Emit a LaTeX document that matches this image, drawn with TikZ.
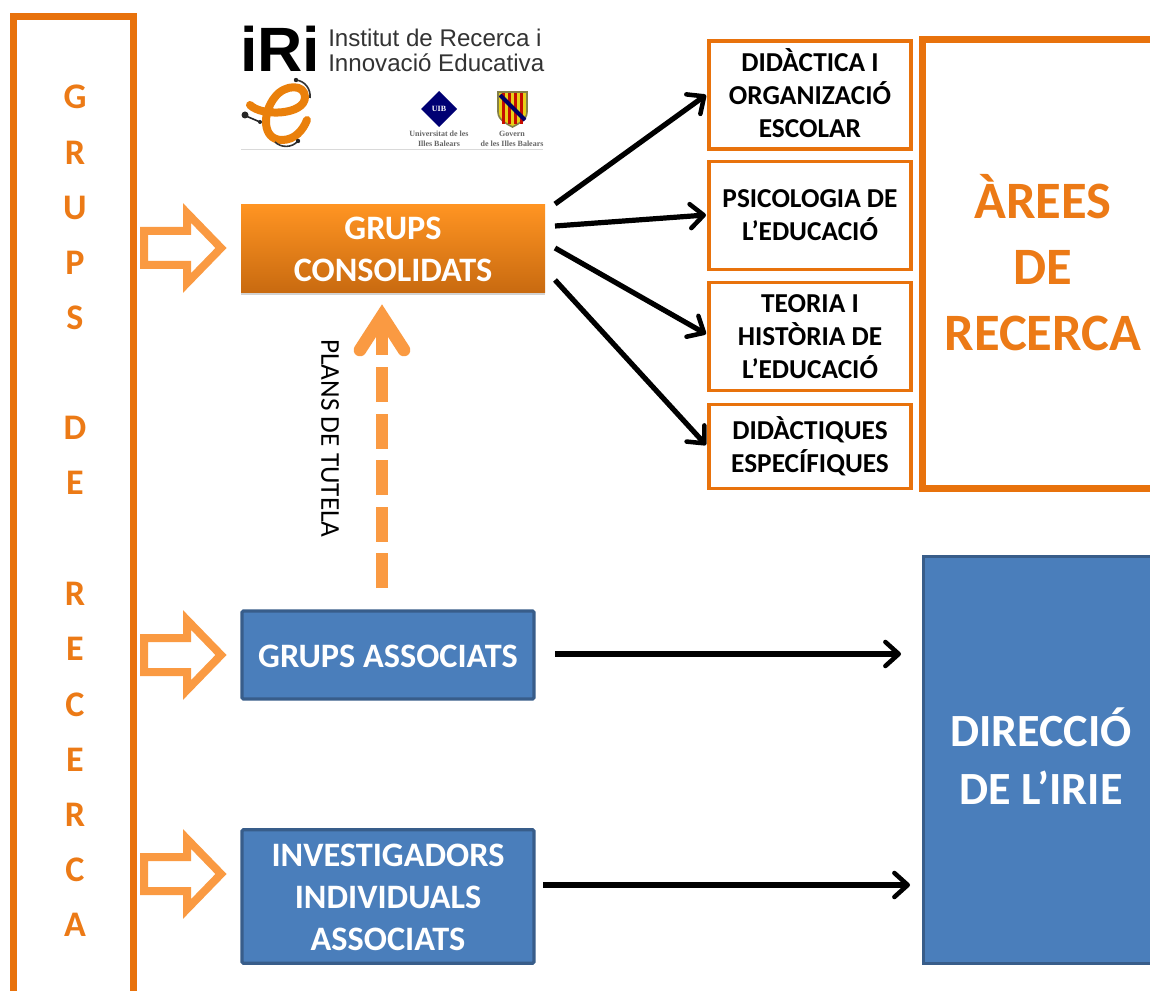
\documentclass[tikz,border=0pt]{standalone}
\usepackage{fontspec}
\setmainfont{Carlito}
\newfontfamily\logofont{Liberation Sans}
\newfontfamily\logoserif{Liberation Serif}
\usetikzlibrary{arrows.meta,shadows}
\definecolor{orline}{HTML}{E8720C}
\definecolor{ortext}{HTML}{EC7A16}
\definecolor{orlight}{HTML}{FA9A42}
\definecolor{bluefill}{HTML}{4A7EBB}
\definecolor{blueline}{HTML}{385D8A}
\definecolor{ortop}{HTML}{FF9422}
\definecolor{orbot}{HTML}{C86A10}
\tikzset{
  px/.style={x=0.75pt,y=-0.75pt},
  areabox/.style={draw=orline,line width=2.8pt,fill=white,anchor=center,inner sep=0pt,align=center,font=\fontsize{20.5}{24.8}\selectfont\bfseries},
  bluebox/.style={draw=blueline,line width=2.4pt,rounded corners=1pt,fill=bluefill,text=white,inner sep=0pt,align=center,font=\fontsize{25.7}{31.5}\selectfont\bfseries},
  goldbox/.style={top color=ortop,bottom color=orbot,text=white,inner sep=0pt,align=center,font=\fontsize{25.7}{31.5}\selectfont\bfseries},
  blk/.style={draw=black,line width=3.9pt,-{Straight Barb[length=10pt,width=18pt,line width=3.4pt,round]}},
  letter/.style={text=ortext,font=\fontsize{27}{27}\selectfont\bfseries},
  hollow/.style={draw=orlight,line width=6pt,fill=white,miter limit=10},
}
\newcommand{\hollowarrow}[1]{\draw[hollow] (144,#1-17) -- (187,#1-17) -- (187,#1-35) -- (221,#1) -- (187,#1+35) -- (187,#1+17) -- (144,#1+17) -- cycle;}
\begin{document}
\begin{tikzpicture}[px]
\useasboundingbox[fill=white] (0,0) rectangle (1150,991);
\begin{scope}
\clip (0,0) rectangle (1150,991);
% left band
\node[draw=orline,line width=5pt,minimum width=90pt,minimum height=750pt,anchor=north west,inner sep=0pt] (band) at (10,13) {};
\foreach \l/\y in {G/97,R/153,U/208,P/263,S/318,D/428,E/483,R/594,E/649,C/705,E/760,R/815,C/870,A/925}
  \node[letter] at (75,\y) {\l};
% right boxes
\node[draw=orline,line width=5pt,fill=white,minimum width=225pt,minimum height=337pt,anchor=north west,inner sep=0pt] (arees) at (919,36) {};
\node[text=ortext,align=center,font=\fontsize{39.4}{49.5}\selectfont\bfseries] (areest) at (1043,263) {ÀREES\\DE\\RECERCA};
\node[draw=blueline,line width=2pt,fill=bluefill,minimum width=225pt,minimum height=305.5pt,anchor=north west,inner sep=0pt] (dir) at (922,555) {};
\node[text=white,align=center,font=\fontsize{34.6}{44}\selectfont\bfseries] (dirt) at (1041,756) {DIRECCIÓ\\DE L’IRIE};
% area boxes
\node[areabox,minimum width=151.5pt,minimum height=81pt] (a1) at (810,95) {};
\node[inner sep=0pt,align=center,font=\fontsize{20.5}{24.8}\selectfont\bfseries] (a1t) at (810,93) {DIDÀCTICA I\\ORGANIZACIÓ\\ESCOLAR};
\node[areabox,minimum width=151.5pt,minimum height=81pt] (a2) at (810,215.5) {PSICOLOGIA DE\\L’EDUCACIÓ};
\node[areabox,minimum width=151.5pt,minimum height=81pt] (a3) at (810,336.5) {TEORIA I\\HISTÒRIA DE\\L’EDUCACIÓ};
\node[areabox,minimum width=151.5pt,minimum height=63pt] (a4) at (810,446.5) {DIDÀCTIQUES\\ESPECÍFIQUES};
% main boxes
\node[goldbox,minimum width=228pt,minimum height=66pt,drop shadow={shadow xshift=0pt,shadow yshift=-1.8pt,opacity=.35}] (gc) at (393,249) {GRUPS\\CONSOLIDATS};
\node[bluebox,minimum width=219pt,minimum height=66pt] (ga) at (388,655) {};
\node[inner sep=0pt,text=white,font=\fontsize{25.7}{31.5}\selectfont\bfseries] (gat) at (388,656) {GRUPS ASSOCIATS};
\node[bluebox,minimum width=219pt,minimum height=100pt] (ii) at (388,896.5) {};
\node[inner sep=0pt,text=white,align=center,font=\fontsize{25.7}{31.5}\selectfont\bfseries] (iit) at (388,897.5) {INVESTIGADORS\\INDIVIDUALS\\ASSOCIATS};
% hollow arrows
\hollowarrow{248}
\hollowarrow{655}
\hollowarrow{874}
% connector ends
\coordinate (s1) at (555,204); \coordinate (e1) at (706,95);
\coordinate (s2) at (555,226); \coordinate (e2) at (706,215);
\coordinate (s3) at (555,248); \coordinate (e3) at (706,334);
\coordinate (s4) at (555,280); \coordinate (e4) at (706,445);
\coordinate (s5) at (555,654); \coordinate (e5) at (901,654);
\coordinate (s6) at (543,885); \coordinate (e6) at (910,885);
\draw[blk] (s1) -- (e1);
\draw[blk] (s2) -- (e2);
\draw[blk] (s3) -- (e3);
\draw[blk] (s4) -- (e4);
\draw[blk] (s5) -- (e5);
\draw[blk] (s6) -- (e6);
% dashed up arrow
\coordinate (dbot) at (382,588);
\coordinate (dtop) at (382,367);
\draw[orlight,line width=9pt,dash pattern=on 26.25pt off 8.6pt] (dbot) -- (dtop);
\draw[orlight,line width=9.5pt,line cap=round,line join=miter] (360,350) -- (382,316) -- (404,350);
\draw[orlight,line width=9pt] (382,316) -- (382,355);
\node[rotate=-90,font=\fontsize{20.4}{22}\selectfont] (tut) at (330,438.5) {PLANS DE TUTELA};
% logo
\node[inner sep=0pt,font=\logofont\bfseries\fontsize{47}{47}\selectfont,anchor=base west,black] (iri) at (240,72) {iRi};
\node[inner sep=0pt,anchor=base west,font=\logofont\fontsize{18.1}{19}\selectfont,text=black!80] (l1) at (328,47) {Institut de Recerca i};
\node[inner sep=0pt,anchor=base west,font=\logofont\fontsize{18.1}{19}\selectfont,text=black!80] (l2) at (328,72) {Innovació Educativa};
\draw[black!15,line width=.6pt] (241,149) -- (543,149);
\draw[orline!90!yellow,line width=6pt,line cap=round,line join=round] (250,105) .. controls (262,117) and (305,115) .. (305,97) .. controls (305,84) and (285,84) .. (275,97) .. controls (262,113) and (262,140) .. (282,140) .. controls (295,140) and (303,130) .. (307,120);
\draw[black!80,line width=1.2pt] (296,80) .. controls (305,81) and (311,89) .. (310,98);
\draw[black!80,line width=1.2pt] (275,142) .. controls (281,148) and (292,148) .. (298,141);
\draw[black!85,line width=1.2pt] (246,116) -- (260,122);
\fill[black!85] (245,115) circle (3.5);
\fill[black!85] (260,122) circle (2);
\fill[black!85] (296,80) circle (2.2);
\fill[black!85] (298,141) circle (2.2);
\fill[blue!45!black] (439,91) -- (457,109) -- (439,127) -- (421,109) -- cycle;
\node[text=white,inner sep=0pt,font=\logoserif\fontsize{6}{6}\selectfont\bfseries] (uib) at (439,109) {UIB};
\draw[yellow!45!black,line width=1.2pt,fill=yellow!85!orange!90!black] (498,92) -- (527,92) -- (527,112) .. controls (527,120) and (518,124) .. (512.5,127) .. controls (507,124) and (498,120) .. (498,112) -- cycle;
\begin{scope}
\clip (499,93) rectangle (526,125);
\foreach \x in {502,508,514,520} \fill[red!75!black!90!orange] (\x,93) rectangle (\x+3,124);
\draw[blue!40!black,line width=3pt] (500,95) -- (525,120);
\end{scope}
\node[align=center,inner sep=0pt,font=\logoserif\bfseries\fontsize{6}{7.5}\selectfont,text=black!60] (uibt) at (439,139) {Universitat de les\\Illes Balears};
\node[align=center,inner sep=0pt,font=\logoserif\bfseries\fontsize{6}{7.5}\selectfont,text=black!60] (govt) at (512,139) {Govern\\de les Illes Balears};
\end{scope}
\end{tikzpicture}
\end{document}
